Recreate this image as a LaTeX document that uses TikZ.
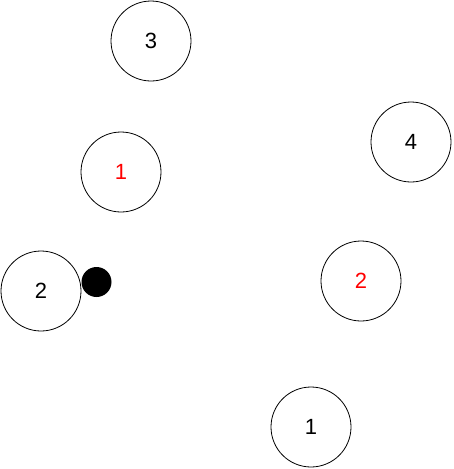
\documentclass[tikz,border=0pt]{standalone}
\usepackage{fontspec}
\setmainfont{Liberation Sans}
\begin{document}
\begin{tikzpicture}[x=1pt,y=-1pt,
  ball/.style={circle,draw=black,line width=0.8pt,minimum size=80pt,inner sep=0pt,font=\fontsize{22}{26}\selectfont},
  redball/.style={ball,text=red},
  dot/.style={circle,fill=black,minimum size=30pt,inner sep=0pt}]
\useasboundingbox (0,0) rectangle (454,469);
\node[ball] (b3) at (151,41) {3};
\node[redball] (r1) at (121,172) {1};
\node[ball] (b4) at (411,142) {4};
\node[ball] (b2) at (41,291) {2};
\node[dot] (d) at (96.5,282) {};
\node[redball] (r2) at (361,281) {2};
\node[ball] (b1) at (311,427) {1};
\end{tikzpicture}
\end{document}
